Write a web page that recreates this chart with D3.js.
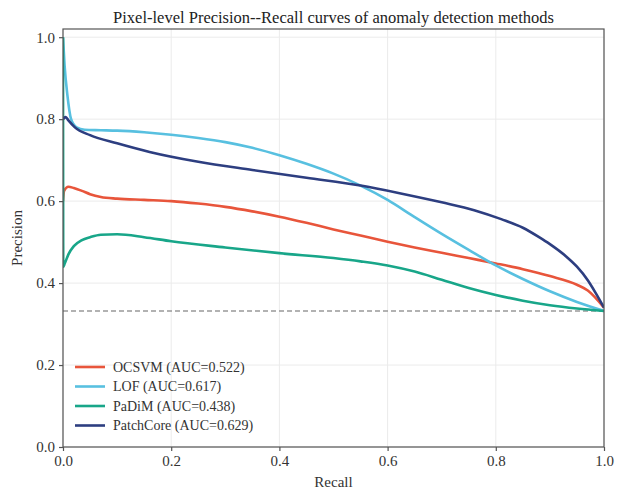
<!DOCTYPE html>
<html><head><meta charset="utf-8">
<script src="https://cdn.jsdelivr.net/npm/d3@7"></script>
<style>body{margin:0;background:#fff;} text{font-family:"Liberation Serif","Times New Roman",serif;}</style>
</head><body><svg id="c" width="623" height="491"></svg>
<script>
const seriesNames = ["OCSVM", "LOF", "PaDiM", "PatchCore"];
const aucValues = [0.522, 0.617, 0.438, 0.629];
const colors = ["#e8553b", "#58c0e0", "#18a689", "#2d3e80"];
const xTicks = [0, 0.2, 0.4, 0.6, 0.8, 1.0];
const yTicks = [0, 0.2, 0.4, 0.6, 0.8, 1.0];
const baseline = 0.332;

const ocsvmRecall = [0, 0.002, 0.01, 0.02, 0.035, 0.05, 0.07, 0.1, 0.15, 0.2, 0.25, 0.3, 0.35, 0.4, 0.45, 0.5, 0.55, 0.6, 0.65, 0.7, 0.75, 0.8, 0.85, 0.9, 0.95, 0.97, 1.0];
const ocsvmPrecision = [0.6, 0.625, 0.635, 0.632, 0.625, 0.617, 0.61, 0.606, 0.603, 0.6, 0.594, 0.586, 0.575, 0.562, 0.547, 0.531, 0.516, 0.501, 0.487, 0.474, 0.461, 0.448, 0.434, 0.417, 0.396, 0.382, 0.34];

const lofRecall = [0, 0.003, 0.008, 0.015, 0.025, 0.04, 0.07, 0.1, 0.15, 0.2, 0.25, 0.3, 0.35, 0.4, 0.45, 0.5, 0.55, 0.6, 0.65, 0.7, 0.75, 0.8, 0.85, 0.9, 0.95, 1.0];
const lofPrecision = [1.0, 0.93, 0.86, 0.8, 0.78, 0.774, 0.773, 0.772, 0.768, 0.762, 0.754, 0.744, 0.73, 0.712, 0.691, 0.667, 0.638, 0.603, 0.561, 0.52, 0.481, 0.443, 0.41, 0.38, 0.354, 0.332];

const padimRecall = [0, 0.0005, 0.003, 0.01, 0.02, 0.035, 0.05, 0.07, 0.1, 0.15, 0.2, 0.3, 0.4, 0.5, 0.55, 0.6, 0.65, 0.7, 0.75, 0.8, 0.85, 0.9, 0.95, 1.0];
const padimPrecision = [1.0, 0.44, 0.447, 0.47, 0.49, 0.505, 0.512, 0.518, 0.519, 0.512, 0.502, 0.487, 0.473, 0.461, 0.453, 0.443, 0.428, 0.408, 0.388, 0.371, 0.357, 0.346, 0.338, 0.332];

const patchcoreRecall = [0, 0.005, 0.01, 0.022, 0.05, 0.1, 0.16, 0.25, 0.35, 0.45, 0.55, 0.62, 0.7, 0.76, 0.81, 0.85, 0.88, 0.9, 0.93, 0.95, 0.97, 0.985, 1.0];
const patchcorePrecision = [0.8, 0.805, 0.797, 0.78, 0.761, 0.741, 0.72, 0.696, 0.676, 0.657, 0.638, 0.62, 0.597, 0.578, 0.556, 0.535, 0.512, 0.495, 0.465, 0.44, 0.407, 0.375, 0.34];

const recalls = [ocsvmRecall, lofRecall, padimRecall, patchcoreRecall];
const precisions = [ocsvmPrecision, lofPrecision, padimPrecision, patchcorePrecision];

const svg = d3.select("#c");
const m = {l: 63, t: 29, r: 19, b: 44};
const W = 623 - m.l - m.r, H = 491 - m.t - m.b;
const x = d3.scaleLinear().domain([0, 1]).range([m.l, m.l + W]);
const y = d3.scaleLinear().domain([0, 1.02]).range([m.t + H, m.t]);

svg.append("defs").append("clipPath").attr("id", "clip")
  .append("rect").attr("x", m.l).attr("y", m.t).attr("width", W).attr("height", H);

// grid
const g = svg.append("g");
g.selectAll(".gx").data(xTicks).join("line")
  .attr("x1", d => x(d)).attr("x2", d => x(d)).attr("y1", m.t).attr("y2", m.t + H)
  .attr("stroke", "#ebebeb").attr("stroke-width", 1);
g.selectAll(".gy").data(yTicks).join("line")
  .attr("y1", d => y(d)).attr("y2", d => y(d)).attr("x1", m.l).attr("x2", m.l + W)
  .attr("stroke", "#ebebeb").attr("stroke-width", 1);

// baseline
svg.append("line").attr("x1", x(0)).attr("x2", x(1)).attr("y1", y(baseline)).attr("y2", y(baseline))
  .attr("stroke", "#999").attr("stroke-width", 1.5).attr("stroke-dasharray", "5,3");

// curves
const line = d3.line().x(d => x(d[0])).y(d => y(d[1])).curve(d3.curveMonotoneX);
seriesNames.forEach((n, i) => {
  const pts = recalls[i].map((r, j) => [r, precisions[i][j]]);
  svg.append("path").datum(pts).attr("d", line).attr("fill", "none")
    .attr("stroke", colors[i]).attr("stroke-width", 2.6).attr("stroke-linejoin", "round")
    .attr("clip-path", "url(#clip)");
});

// frame
svg.append("rect").attr("x", m.l).attr("y", m.t).attr("width", W).attr("height", H)
  .attr("fill", "none").attr("stroke", "#555").attr("stroke-width", 1.2);

// axes
const xa = svg.append("g").attr("transform", `translate(0,${m.t + H})`)
  .call(d3.axisBottom(x).tickValues(xTicks).tickFormat(d3.format(".1f")).tickSize(4).tickPadding(4));
const ya = svg.append("g").attr("transform", `translate(${m.l},0)`)
  .call(d3.axisLeft(y).tickValues(yTicks).tickFormat(d3.format(".1f")).tickSize(4).tickPadding(4));
[xa, ya].forEach(a => {
  a.select(".domain").remove();
  a.selectAll(".tick line").attr("stroke", "#555").attr("stroke-width", 1.2);
  a.selectAll(".tick text").attr("fill", "#333").style("font-size", "15px")
    .style("font-family", '"Liberation Serif", serif');
});

// labels
svg.append("text").attr("x", x(0.5)).attr("y", 23).attr("text-anchor", "middle")
  .attr("fill", "#222").style("font-size", "16.5px").text("Pixel-level Precision--Recall curves of anomaly detection methods");
svg.append("text").attr("x", x(0.5)).attr("y", 487).attr("text-anchor", "middle")
  .attr("fill", "#333").style("font-size", "15px").text("Recall");
svg.append("text").attr("transform", `translate(22,${m.t + H / 2}) rotate(-90)`).attr("text-anchor", "middle")
  .attr("fill", "#333").style("font-size", "15px").text("Precision");

// legend
const lg = svg.append("g");
seriesNames.forEach((n, i) => {
  const yy = 367 + i * 19.5;
  lg.append("line").attr("x1", 75).attr("x2", 105).attr("y1", yy).attr("y2", yy)
    .attr("stroke", colors[i]).attr("stroke-width", 2.6);
  lg.append("text").attr("x", 113).attr("y", yy + 4.5).attr("fill", "#333")
    .style("font-size", "14px").text(`${n} (AUC=${aucValues[i].toFixed(3)})`);
});
</script></body></html>
